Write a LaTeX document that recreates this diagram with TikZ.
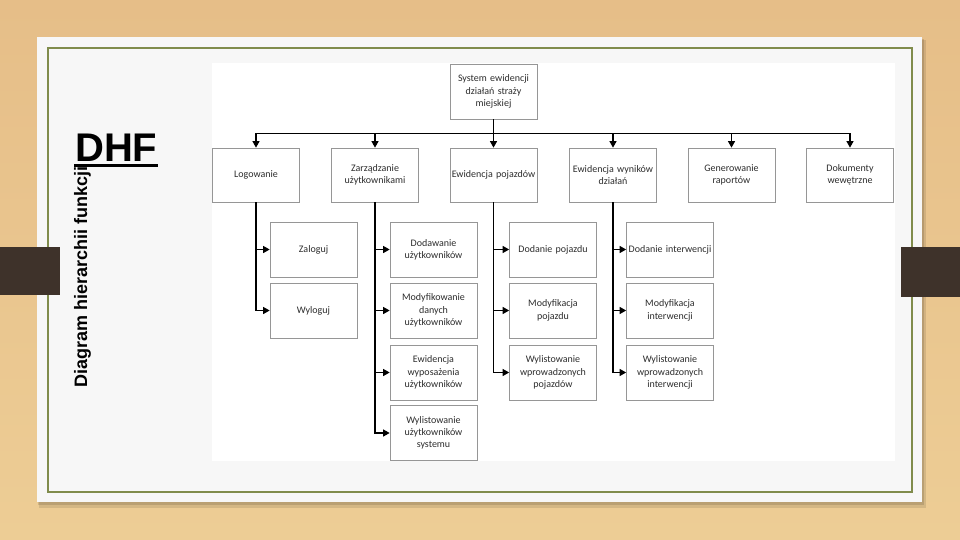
\documentclass[tikz,border=0pt]{standalone}
\usepackage{fontspec}
\setmainfont{Carlito}
\newfontfamily\titlefont{Liberation Sans}
\usetikzlibrary{arrows.meta,calc}
\definecolor{woodtop}{RGB}{230,190,136}
\definecolor{woodbot}{RGB}{237,205,149}
\definecolor{cardwhite}{RGB}{247,247,247}
\definecolor{olivegreen}{RGB}{128,140,76}
\definecolor{tabbrown}{RGB}{62,50,42}
\definecolor{boxgray}{RGB}{150,150,150}
\definecolor{txtgray}{RGB}{45,45,45}
\begin{document}
\begin{tikzpicture}[x=1pt,y=-1pt,
  box/.style={draw=boxgray, line width=0.7pt, fill=white, minimum width=87pt,
    minimum height=55pt, text width=85pt, align=center, inner sep=1pt,
    font=\fontsize{10}{12.3}\selectfont, text=txtgray},
  arr/.style={-{Triangle[length=6.5pt,width=7pt]}, line width=1.1pt, black}]
\useasboundingbox (0,0) rectangle (960,540);
% background
\shade[top color=woodtop, bottom color=woodbot] (0,0) rectangle (960,540);
\fill[black, opacity=0.10] (39,40) rectangle (926,508);
\fill[black, opacity=0.12] (38,39) rectangle (924,505);
\fill[cardwhite] (37,37) rectangle (922,502);
\draw[olivegreen, line width=2pt] (48,48) rectangle (912,492);
\fill[white] (212,63) rectangle (895,461);
\fill[tabbrown] (0,247) rectangle (60,295);
\fill[tabbrown] (901,247) rectangle (960,297);
% titles
\node[anchor=base west, inner sep=0, font=\titlefont\bfseries\fontsize{40}{40}\selectfont] (dhf) at (75,162) {DHF};
\draw[line width=3pt] ($(dhf.base west)+(-1,4)$) -- ($(dhf.base east)+(0,4)$);
\node[rotate=90, anchor=base west, inner sep=0, font=\titlefont\bfseries\fontsize{18}{18}\selectfont] (sub) at (87,388) {Diagram hierarchii funkcji};
% root
\node[box] (root) at (493.5,91.5) {System ewidencji\\działań straży\\miejskiej};
% level 1
\node[box, minimum height=54pt] (log) at (256,175) {Logowanie};
\node[box, minimum height=54pt] (zarz) at (375,175) {Zarządzanie\\użytkownikami};
\node[box, minimum height=54pt] (pojazd) at (493.5,175) {Ewidencja pojazdów};
\node[box, minimum height=54pt] (wynik) at (613,175) {Ewidencja wyników\\działań};
\node[box, minimum height=54pt] (gen) at (731.5,175) {Generowanie\\raportów};
\node[box, minimum height=54pt] (dok) at (850,175) {Dokumenty\\wewętrzne};
% level 2
\node[box] (zal) at (313.5,249.5) {Zaloguj};
\node[box] (wyl) at (313.5,310.5) {Wyloguj};
\node[box] (dod) at (433.5,249.5) {Dodawanie\\użytkowników};
\node[box] (mod) at (433.5,310.5) {Modyfikowanie\\danych\\użytkowników};
\node[box] (wyp) at (433.5,372.5) {Ewidencja\\wyposażenia\\użytkowników};
\node[box] (lis) at (433.5,433) {Wylistowanie\\użytkowników\\systemu};
\node[box] (dpoj) at (553,249.5) {Dodanie pojazdu};
\node[box] (mpoj) at (553,310.5) {Modyfikacja\\pojazdu};
\node[box] (lpoj) at (553,372.5) {Wylistowanie\\wprowadzonych\\pojazdów};
\node[box] (dint) at (670,249.5) {Dodanie interwencji};
\node[box] (mint) at (670,310.5) {Modyfikacja\\interwencji};
\node[box] (lint) at (670,372.5) {Wylistowanie\\wprowadzonych\\interwencji};
% connectors level 1
\foreach \c in {log,zarz,pojazd,wynik,gen,dok}
  \draw[arr] (root.south) -- ++(0,14) -| (\c.north);
% connectors level 2
\foreach \c in {zal,wyl}
  \draw[arr] (log.south) |- (\c.west);
\foreach \c in {dod,mod,wyp,lis}
  \draw[arr] (zarz.south) |- (\c.west);
\foreach \c in {dpoj,mpoj,lpoj}
  \draw[arr] (pojazd.south) |- (\c.west);
\foreach \c in {dint,mint,lint}
  \draw[arr] (wynik.south) |- (\c.west);
\end{tikzpicture}
\end{document}
